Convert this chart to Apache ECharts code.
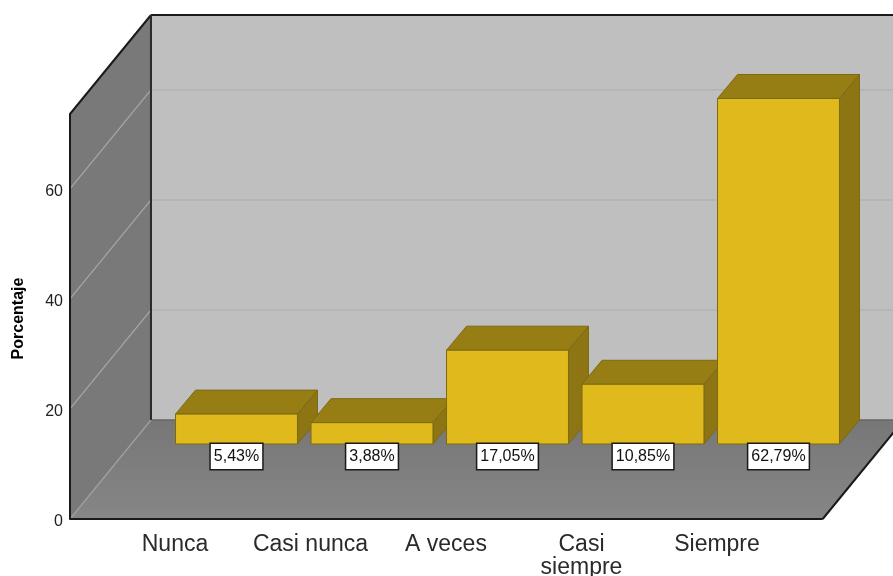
<!DOCTYPE html>
<html>
<head>
<meta charset="utf-8">
<style>html,body{margin:0;padding:0;background:#fff}#c{width:893px;height:576px}</style>
<script src="https://cdn.jsdelivr.net/npm/echarts@6/dist/echarts.min.js"></script>
</head>
<body>
<div id="c"></div>
<script>
const categories = ['Nunca', 'Casi nunca', 'A veces', 'Casi\nsiempre', 'Siempre'];
const percentages = [5.43, 3.88, 17.05, 10.85, 62.79];
const gridValues = [20, 40, 60];
const yTicksMax = 73.6;

const wallDepth = [81, -99];
const barOffset = [61.5, -75];
const barDepth = [20, -24];
const wallLeftFrac = -0.775, wallRightFrac = 4.78, barWidthRatio = 0.9;
const FONT = '"Liberation Sans", Arial, sans-serif';

const chart = echarts.init(document.getElementById('c'), null, {renderer: 'canvas'});

function poly(points, fill, stroke, lw, z2) {
  return {type: 'polygon', z2: z2 || 0, shape: {points},
    style: {fill, stroke: stroke || 'none', lineWidth: lw || 0}};
}
function line(a, b, stroke, lw, z2) {
  return {type: 'line', z2: z2 || 1, shape: {x1: a[0], y1: a[1], x2: b[0], y2: b[1]},
    style: {stroke, lineWidth: lw}};
}

function renderWalls(params, api) {
  const p0 = api.coord([0, 0]), p1 = api.coord([1, 0]), band = p1[0] - p0[0];
  const xl = p0[0] + wallLeftFrac * band, xr = p0[0] + wallRightFrac * band;
  const y0 = p0[1], yT = api.coord([0, yTicksMax])[1];
  const dx = wallDepth[0], dy = wallDepth[1];
  const ch = [];
  ch.push(poly([[xl + dx, y0 + dy], [xr + dx, y0 + dy], [xr + dx, yT + dy], [xl + dx, yT + dy]], '#bfbfbf'));
  ch.push(poly([[xl, y0], [xl + dx, y0 + dy], [xl + dx, yT + dy], [xl, yT]], '#797979'));
  ch.push(poly([[xl, y0], [xr, y0], [xr + dx, y0 + dy], [xl + dx, y0 + dy]],
    new echarts.graphic.LinearGradient(0, 0, 0, 1, [{offset: 0, color: '#777777'}, {offset: 1, color: '#868686'}])));
  gridValues.forEach(v => {
    const y = api.coord([0, v])[1];
    ch.push(line([xl, y], [xl + dx, y + dy], '#a6a6a6', 1.3));
    ch.push(line([xl + dx, y + dy], [xr + dx, y + dy], '#b2b2b2', 1.5));
  });
  ch.push(line([xl + dx, y0 + dy], [xr + dx, y0 + dy], '#666666', 1.5));
  ch.push(line([xl, y0], [xl + dx, y0 + dy], '#a0a0a0', 1.2));
  ch.push(line([xl, yT], [xl + dx, yT + dy], '#1a1a1a', 2));
  ch.push(line([xl + dx, yT + dy], [xr + dx, yT + dy], '#1a1a1a', 2));
  ch.push(line([xl + dx, yT + dy], [xl + dx, y0 + dy], '#2a2a2a', 2));
  ch.push(line([xl, y0], [xr, y0], '#1a1a1a', 2));
  ch.push(line([xr, y0], [xr + dx, y0 + dy], '#1a1a1a', 2));
  return {type: 'group', children: ch};
}

function renderBar(params, api) {
  const idx = api.value(0), val = api.value(1);
  const base = api.coord([idx, 0]), top = api.coord([idx, val]);
  const band = api.size([1, 0])[0], w = band * barWidthRatio;
  const cx = base[0] + barOffset[0];
  const l = cx - w / 2, r = cx + w / 2;
  const yb = base[1] + barOffset[1], yt = top[1] + barOffset[1];
  const dx = barDepth[0], dy = barDepth[1];
  const edge = '#7d6a12';
  return {type: 'group', children: [
    poly([[r, yb], [r + dx, yb + dy], [r + dx, yt + dy], [r, yt]], '#8c7512', edge, 1),
    poly([[l, yt], [r, yt], [r + dx, yt + dy], [l + dx, yt + dy]], '#967e14', edge, 1),
    poly([[l, yb], [r, yb], [r, yt], [l, yt]], '#e0b91c', edge, 1),
    {type: 'text', z2: 5, style: {
      x: cx, y: yb + 12.5, align: 'center', verticalAlign: 'middle',
      text: val.toFixed(2).replace('.', ',') + '%',
      font: '16px ' + FONT, fill: '#111',
      backgroundColor: '#fff', borderColor: '#1a1a1a', borderWidth: 1.5,
      padding: [5, 3, 4, 3]
    }}
  ]};
}

chart.setOption({
  animation: false,
  backgroundColor: '#ffffff',
  grid: {left: 107.25, right: 108.25, top: 114, bottom: 57, outerBoundsMode: 'none'},
  xAxis: {
    type: 'category', data: categories,
    axisLine: {show: false}, axisTick: {show: false},
    axisLabel: {interval: 0, margin: 14, fontFamily: FONT, fontSize: 23, color: '#2a2a2a', lineHeight: 23, verticalAlign: 'top'}
  },
  yAxis: {
    type: 'value', min: 0, max: yTicksMax, interval: 20, offset: 37.25, z: 10,
    name: 'Porcentaje', nameLocation: 'middle', nameRotate: 90, nameGap: 43,
    nameTextStyle: {fontFamily: FONT, fontSize: 16, fontWeight: 'bold', color: '#000', padding: [0, 4, 0, 0]},
    splitLine: {show: false},
    axisLine: {show: true, lineStyle: {color: '#1a1a1a', width: 2}},
    axisTick: {show: false},
    axisLabel: {showMaxLabel: false, margin: 7, verticalAlign: 'top', lineHeight: 5, fontFamily: FONT, fontSize: 16, color: '#222'}
  },
  series: [
    {type: 'custom', z: 1, silent: true, clip: false, renderItem: renderWalls, data: [[0, 0]], encode: {x: 0, y: 1}},
    {type: 'custom', z: 2, silent: true, clip: false, renderItem: renderBar,
      data: percentages.map((v, i) => [i, v]), encode: {x: 0, y: 1}}
  ]
});
</script>
</body>
</html>
